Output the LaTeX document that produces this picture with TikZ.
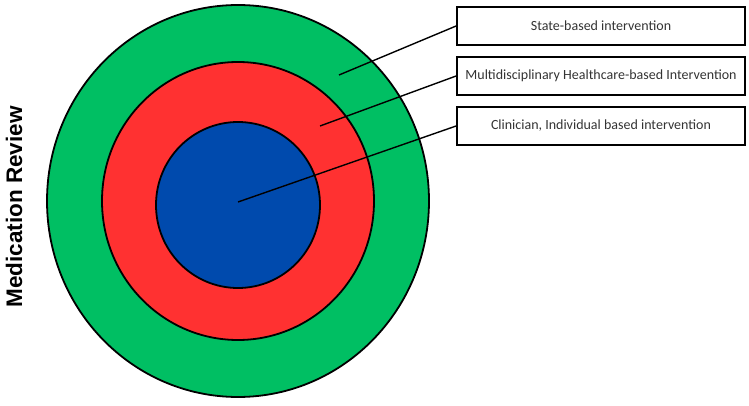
\documentclass[tikz,border=0pt]{standalone}
\usepackage{fontspec}
\setmainfont{Carlito}
\newfontfamily\headfont{Liberation Sans}
\definecolor{rgreen}{HTML}{00BF63}
\definecolor{rred}{HTML}{FF3131}
\definecolor{rblue}{HTML}{004AAD}
\definecolor{rtext}{HTML}{333333}
\begin{document}
\begin{tikzpicture}[x=1pt,y=-1pt,
  ring/.style={draw=black,line width=1.8pt},
  labelbox/.style={draw=black,line width=1.8pt,minimum width=288pt,minimum height=38pt,inner sep=0pt,font=\fontsize{14}{16}\selectfont,text=rtext},
  leader/.style={draw=black,line width=1.4pt}]
\useasboundingbox (0,0) rectangle (749,406);
\fill[rgreen,ring] (238,201) ellipse [x radius=191,y radius=196];
\fill[rred,ring] (238,201) ellipse [x radius=136,y radius=139];
\fill[rblue,ring] (238,205) ellipse [x radius=82,y radius=83];
\node[labelbox] (b1) at (601,26) {State-based intervention};
\node[labelbox] (b2) at (601,76) {Multidisciplinary Healthcare-based Intervention};
\node[labelbox] (b3) at (601,126) {Clinician, Individual based intervention};
\coordinate (p1) at (339,75);
\coordinate (p2) at (320,126);
\coordinate (p3) at (238,202);
\draw[leader] (p1) -- (b1.west);
\draw[leader] (p2) -- (b2.west);
\draw[leader] (p3) -- (b3.west);
\node[rotate=90,font=\headfont\bfseries\fontsize{22.5}{26}\selectfont] (title) at (14,207) {Medication Review};
\end{tikzpicture}
\end{document}
